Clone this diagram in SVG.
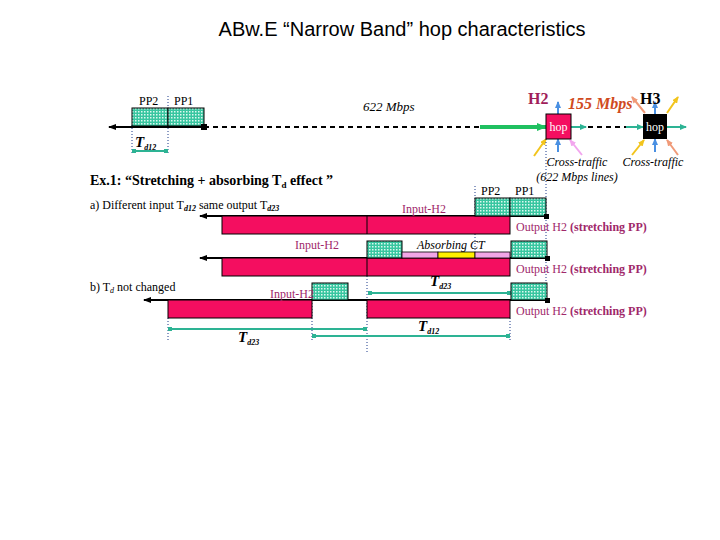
<svg xmlns="http://www.w3.org/2000/svg" width="720" height="540" viewBox="0 0 720 540">
<defs>
<pattern id="dots" width="3" height="3" patternUnits="userSpaceOnUse"><rect width="3" height="3" fill="#38C6A0"/><rect width="1.5" height="1.5" fill="#DDF8F0"/></pattern>
<marker id="ahB" markerWidth="8" markerHeight="6" refX="7" refY="3" orient="auto" markerUnits="userSpaceOnUse"><path d="M0,0 L8,3 L0,6 z" fill="#000"/></marker>
<marker id="ahT" markerWidth="7" markerHeight="6" refX="6" refY="3" orient="auto" markerUnits="userSpaceOnUse"><path d="M0,0 L7,3 L0,6 z" fill="#2DB394"/></marker>
<marker id="ahG" markerWidth="10" markerHeight="8" refX="9" refY="4" orient="auto" markerUnits="userSpaceOnUse"><path d="M0,0 L10,4 L0,8 z" fill="#1FC060"/></marker>
<marker id="ahBl" markerWidth="7" markerHeight="6" refX="6" refY="3" orient="auto" markerUnits="userSpaceOnUse"><path d="M0,0 L7,3 L0,6 z" fill="#4A90E2"/></marker>
<marker id="ahY" markerWidth="7" markerHeight="6" refX="6" refY="3" orient="auto" markerUnits="userSpaceOnUse"><path d="M0,0 L7,3 L0,6 z" fill="#F2C41C"/></marker>
<marker id="ahS" markerWidth="7" markerHeight="6" refX="6" refY="3" orient="auto" markerUnits="userSpaceOnUse"><path d="M0,0 L7,3 L0,6 z" fill="#F09A78"/></marker>
<marker id="ahP" markerWidth="7" markerHeight="6" refX="6" refY="3" orient="auto" markerUnits="userSpaceOnUse"><path d="M0,0 L7,3 L0,6 z" fill="#F2A6EE"/></marker>
<marker id="dotT" markerWidth="4" markerHeight="4" refX="2" refY="2" markerUnits="userSpaceOnUse"><rect width="4" height="4" fill="#2DB394"/></marker>
</defs>
<style>
text{font-family:"Liberation Serif","Times New Roman",serif;font-size:12px;fill:#000}
.title{font-family:"Liberation Sans",Arial,sans-serif;font-size:20px}
.lbl{fill:#A0286A}
.pp{fill:url(#dots);stroke:#000;stroke-width:1}
.bar{fill:#F40E60;stroke:#000;stroke-width:1}
.blk{stroke:#000;stroke-width:2;fill:none}
.dash{stroke:#000;stroke-width:2;stroke-dasharray:5,4;fill:none}
.dot{stroke:#1C3A8A;stroke-width:1;stroke-dasharray:1,2;fill:none}
.tl{stroke:#2DB394;stroke-width:2;fill:none}
.td{font-style:italic;font-weight:bold;font-size:15px}
.sub{font-size:8px}
.it{font-style:italic}
</style>
<rect width="720" height="540" fill="#fff"/>
<text class="title" x="402" y="36" text-anchor="middle">ABw.E “Narrow Band” hop characteristics</text>

<g id="connectors">
<line class="blk" x1="204" y1="127" x2="109" y2="127" marker-end="url(#ahB)"/>
<line class="dash" x1="204" y1="127" x2="480" y2="127"/>
<line x1="480" y1="127" x2="546" y2="127" stroke="#1FC060" stroke-width="4" marker-end="url(#ahG)"/>
<line class="tl" x1="571" y1="127" x2="586" y2="127" marker-end="url(#ahT)"/>
<line class="dash" x1="588" y1="127" x2="626" y2="127"/>
<line class="tl" x1="626" y1="127" x2="643" y2="127" marker-end="url(#ahT)"/>
<line class="tl" x1="667" y1="127" x2="686" y2="127" marker-end="url(#ahT)"/>
<line x1="558" y1="114" x2="558" y2="102" stroke="#4A90E2" stroke-width="2" marker-end="url(#ahBl)"/>
<line x1="558" y1="152" x2="558" y2="139" stroke="#4A90E2" stroke-width="2" marker-end="url(#ahBl)"/>
<line x1="534" y1="156" x2="546" y2="139" stroke="#F2C41C" stroke-width="2" marker-end="url(#ahY)"/>
<line x1="582" y1="155" x2="570" y2="140" stroke="#F2A6EE" stroke-width="2" marker-end="url(#ahP)"/>
<line x1="655" y1="114" x2="655" y2="102" stroke="#4A90E2" stroke-width="2" marker-end="url(#ahBl)"/>
<line x1="655" y1="152" x2="655" y2="139" stroke="#4A90E2" stroke-width="2" marker-end="url(#ahBl)"/>
<line x1="645" y1="113" x2="632" y2="97" stroke="#F09A78" stroke-width="2" marker-end="url(#ahS)"/>
<line x1="667" y1="113" x2="678" y2="97" stroke="#F2C41C" stroke-width="2" marker-end="url(#ahY)"/>
<line x1="632" y1="155" x2="644" y2="140" stroke="#F2C41C" stroke-width="2" marker-end="url(#ahY)"/>
<line x1="678" y1="155" x2="667" y2="140" stroke="#F09A78" stroke-width="2" marker-end="url(#ahS)"/>

<line class="dot" x1="168" y1="96" x2="168" y2="108"/>
<line class="dot" x1="132" y1="125" x2="132" y2="153"/>
<line class="dot" x1="168" y1="125" x2="168" y2="153"/>
<line class="tl" x1="134" y1="151" x2="166" y2="151" marker-start="url(#dotT)" marker-end="url(#dotT)"/>
<line class="dot" x1="546" y1="139" x2="546" y2="302"/>
<line class="dot" x1="475" y1="186" x2="475" y2="264"/>
<line class="dot" x1="367" y1="276" x2="367" y2="354"/>
<line class="dot" x1="312" y1="300" x2="312" y2="341"/>
<line class="dot" x1="168" y1="318" x2="168" y2="341"/>
<line class="dot" x1="510" y1="318" x2="510" y2="341"/>

<line class="blk" x1="546" y1="216" x2="200" y2="216" marker-end="url(#ahB)"/>
<line class="blk" x1="547" y1="258" x2="200" y2="258" marker-end="url(#ahB)"/>
<line class="blk" x1="547" y1="300" x2="144" y2="300" marker-end="url(#ahB)"/>

<line class="tl" x1="370" y1="293" x2="509" y2="293" marker-start="url(#dotT)" marker-end="url(#dotT)"/>
<line class="tl" x1="170" y1="329" x2="365" y2="329" marker-start="url(#dotT)" marker-end="url(#dotT)"/>
<line class="tl" x1="314" y1="336" x2="508" y2="336" marker-start="url(#dotT)" marker-end="url(#dotT)"/>
</g>

<g id="top-packets">
<rect class="pp" x="132" y="108" width="36" height="18"/>
<rect class="pp" x="168" y="108" width="36" height="18"/>
<rect x="201" y="124" width="6" height="6" fill="#000"/>
<text x="139" y="105">PP2</text>
<text x="174" y="105">PP1</text>
<text class="td" x="135" y="147">T<tspan class="sub" dy="3">d12</tspan></text>
</g>

<g id="H2">
<rect x="546" y="114" width="25" height="25" fill="#F40E60" stroke="#000" stroke-width="1"/>
<text x="558.5" y="131" text-anchor="middle" style="fill:#fff">hop</text>
<text x="528" y="104" style="font-weight:bold;font-size:16px;fill:#A01E5A">H2</text>
</g>
<g id="H3">
<rect x="643" y="114" width="24" height="25" fill="#000"/>
<text x="655" y="131" text-anchor="middle" style="fill:#fff">hop</text>
<text x="640" y="104" style="font-weight:bold;font-size:16px">H3</text>
</g>
<g id="link-labels">
<text x="363" y="111" class="it" style="font-size:13px">622 Mbps</text>
<text x="568" y="109" style="font-style:italic;font-weight:bold;font-size:16px;fill:#D04A20">155 Mbps</text>
<text x="577" y="166" text-anchor="middle" class="it">Cross-traffic</text>
<text x="577" y="181" text-anchor="middle" class="it">(622 Mbps lines)</text>
<text x="653" y="166" text-anchor="middle" class="it">Cross-traffic</text>
</g>

<g id="captions">
<text x="90" y="185" style="font-weight:bold;font-size:14px">Ex.1:  “Stretching + absorbing T<tspan style="font-size:9px" dy="3">d</tspan><tspan dy="-3"> effect ”</tspan></text>
<text x="90" y="209">a) Different input T<tspan class="sub" style="font-style:italic;font-weight:bold" dy="2">d12</tspan><tspan dy="-2"> same output T</tspan><tspan class="sub" style="font-style:italic;font-weight:bold" dy="2">d23</tspan></text>
<text x="90" y="291">b)  T<tspan class="sub" style="font-style:italic" dy="2">d</tspan><tspan dy="-2"> not changed</tspan></text>
</g>

<g id="row1">
<rect class="bar" x="222" y="216" width="288" height="18"/>
<line x1="367" y1="216" x2="367" y2="234" stroke="#000"/>
<rect class="pp" x="475" y="198" width="35" height="18"/>
<rect class="pp" x="510" y="198" width="36" height="18"/>
<rect x="544" y="214" width="5" height="5" fill="#000"/>
<text x="481" y="195">PP2</text>
<text x="515" y="195">PP1</text>
<text x="402" y="213" class="lbl">Input-H2</text>
<text x="516" y="231" class="lbl">Output H2 <tspan style="font-weight:bold">(stretching PP)</tspan></text>
</g>

<g id="row2">
<rect class="bar" x="222" y="258" width="288" height="18"/>
<line x1="367" y1="258" x2="367" y2="276" stroke="#000"/>
<rect class="pp" x="367" y="241" width="35" height="17"/>
<rect x="402" y="252" width="36" height="6" fill="#F2A6E6" stroke="#000" stroke-width="0.8"/>
<rect x="438" y="252" width="37" height="6" fill="#FFEE00" stroke="#000" stroke-width="0.8"/>
<rect x="475" y="252" width="35" height="6" fill="#F2A6E6" stroke="#000" stroke-width="0.8"/>
<rect class="pp" x="511" y="241" width="36" height="17"/>
<rect x="545" y="256" width="5" height="5" fill="#000"/>
<text x="295" y="249" class="lbl">Input-H2</text>
<text x="417" y="249" class="it">Absorbing  CT</text>
<text x="516" y="273" class="lbl">Output H2 <tspan style="font-weight:bold">(stretching PP)</tspan></text>
<text class="td" x="430" y="286">T<tspan class="sub" dy="3">d23</tspan></text>
</g>

<g id="row3">
<rect class="bar" x="168" y="300" width="144" height="18"/>
<rect class="pp" x="312" y="283" width="36" height="17"/>
<rect class="bar" x="367" y="300" width="143" height="18"/>
<rect class="pp" x="511" y="283" width="36" height="17"/>
<rect x="545" y="298" width="5" height="5" fill="#000"/>
<text x="270" y="298" class="lbl">Input-H2</text>
<text x="516" y="315" class="lbl">Output H2 <tspan style="font-weight:bold">(stretching PP)</tspan></text>
<text class="td" x="418" y="331">T<tspan class="sub" dy="3">d12</tspan></text>
<text class="td" x="238" y="342">T<tspan class="sub" dy="3">d23</tspan></text>
</g>
</svg>
